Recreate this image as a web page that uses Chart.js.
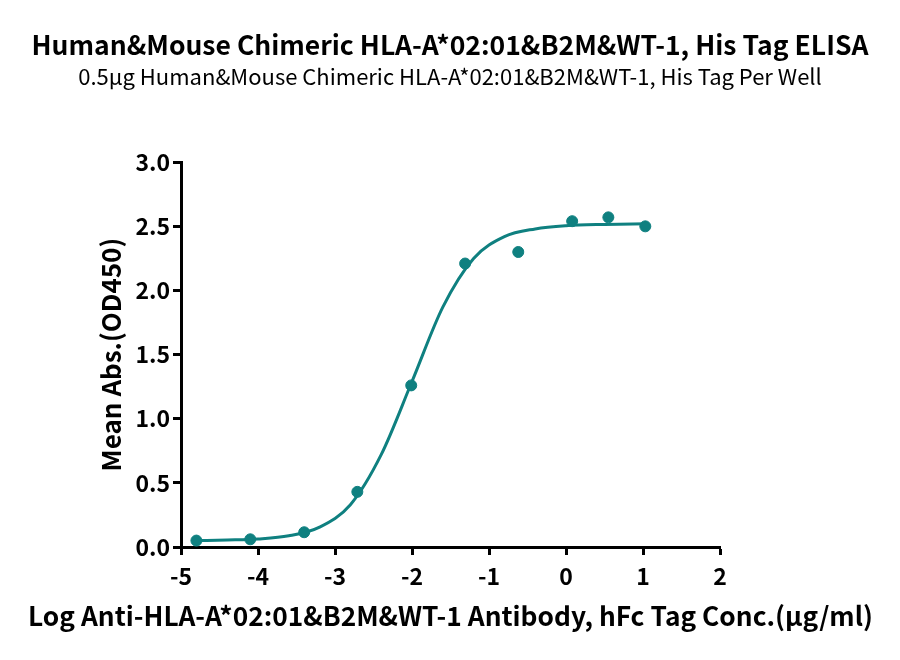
<!DOCTYPE html>
<html>
<head>
<meta charset="utf-8">
<title>ELISA</title>
<script src="https://cdn.jsdelivr.net/npm/chart.js@4/dist/chart.umd.min.js"></script>
<style>
  html, body { margin: 0; padding: 0; background: #fff; }
  #wrap { width: 900px; height: 660px; }
</style>
</head>
<body>
<div id="wrap"><canvas id="elisaChart" width="900" height="660"></canvas></div>
<script>
// Measured points (log conc, OD450)
const logConc = [-4.8, -4.1, -3.4, -2.71, -2.01, -1.31, -0.62, 0.08, 0.55, 1.03];
const meanAbs = [0.05, 0.06, 0.115, 0.43, 1.26, 2.21, 2.30, 2.54, 2.57, 2.50];

// Fitted curve
const curveX = [-4.8, -4.4, -4.0, -3.6, -3.2, -2.8, -2.4, -2.0, -1.6, -1.2, -0.8, -0.4, 0.0, 0.5, 1.05];
const curveY = [0.05, 0.055, 0.063, 0.087, 0.155, 0.33, 0.72, 1.29, 1.87, 2.25, 2.42, 2.48, 2.505, 2.515, 2.52];

const xTicks = [-5, -4, -3, -2, -1, 0, 1, 2];
const yTicks = [0, 0.5, 1, 1.5, 2, 2.5, 3];

const xTitle = "Log Anti-HLA-A*02:01&B2M&WT-1 Antibody, hFc Tag Conc.(μg/ml)";

const teal = "#0f8080";
const fontFamily = "'Noto Sans CJK SC', 'Noto Sans', sans-serif";

const points = logConc.map((x, i) => ({ x: x, y: meanAbs[i] }));
const curve = curveX.map((x, i) => ({ x: x, y: curveY[i] }));

const axisStyle = {
  border: { display: true, color: "#000", width: 3 },
  grid: { display: true, drawOnChartArea: false, drawTicks: true, tickLength: 8, tickWidth: 3, tickColor: "#000" },
};

// x axis title is wider than the plot, so draw it without the scale's maxWidth squeeze
const xTitlePlugin = {
  id: "xTitle",
  afterDraw(chart) {
    const { ctx, chartArea } = chart;
    ctx.save();
    ctx.fillStyle = "#000";
    ctx.font = "bold 26.3px " + fontFamily;
    ctx.textAlign = "center";
    ctx.textBaseline = "middle";
    ctx.fillText(xTitle, (chartArea.left + chartArea.right) / 2, 616);
    ctx.restore();
  },
};

const ctx = document.getElementById("elisaChart").getContext("2d");
const chart = new Chart(ctx, {
  type: "scatter",
  data: {
    datasets: [
      {
        label: "Data",
        data: points,
        backgroundColor: teal,
        borderColor: teal,
        pointRadius: 5.5,
        showLine: false,
        order: 1,
      },
      {
        label: "Fit",
        data: curve,
        borderColor: teal,
        borderWidth: 3,
        pointRadius: 0,
        showLine: true,
        fill: false,
        cubicInterpolationMode: "monotone",
        order: 2,
      },
    ],
  },
  options: {
    responsive: false,
    animation: false,
    layout: { padding: 0 },
    plugins: {
      legend: { display: false },
      tooltip: { enabled: false },
      title: {
        display: true,
        text: "Human&Mouse Chimeric HLA-A*02:01&B2M&WT-1, His Tag ELISA",
        color: "#000",
        font: { family: fontFamily, size: 26.5, weight: "bold", lineHeight: 1.2 },
        padding: { top: 29, bottom: 0 },
      },
      subtitle: {
        display: true,
        text: "0.5μg Human&Mouse Chimeric HLA-A*02:01&B2M&WT-1, His Tag Per Well",
        color: "#000",
        font: { family: fontFamily, size: 22, weight: "normal", lineHeight: 1.2 },
        padding: { top: 3, bottom: 72 },
      },
    },
    scales: {
      x: {
        type: "linear",
        min: -5,
        max: 2,
        ...axisStyle,
        afterBuildTicks: (scale) => { scale.ticks = xTicks.map((v) => ({ value: v })); },
        afterFit: (scale) => { scale.height = 113; },
        ticks: {
          color: "#000",
          padding: 7,
          font: { family: fontFamily, size: 23, weight: "bold" },
        },
      },
      y: {
        type: "linear",
        min: 0,
        max: 3,
        ...axisStyle,
        afterBuildTicks: (scale) => { scale.ticks = yTicks.map((v) => ({ value: v })); },
        afterFit: (scale) => { scale.width = 181; },
        ticks: {
          color: "#000",
          padding: 3,
          font: { family: fontFamily, size: 23, weight: "bold" },
          callback: (v) => Number(v).toFixed(1),
        },
        title: {
          display: true,
          text: "Mean Abs.(OD450)",
          color: "#000",
          font: { family: fontFamily, size: 26, weight: "bold", lineHeight: 1.2 },
          padding: { top: 96, bottom: 0 },
        },
      },
      // empty right-hand axis that only holds the white space on the right
      yRight: {
        type: "linear",
        position: "right",
        min: 0,
        max: 3,
        border: { display: false },
        grid: { display: false },
        ticks: { display: false },
        afterFit: (scale) => { scale.width = 180; },
      },
    },
  },
  plugins: [xTitlePlugin],
});
</script>
</body>
</html>
